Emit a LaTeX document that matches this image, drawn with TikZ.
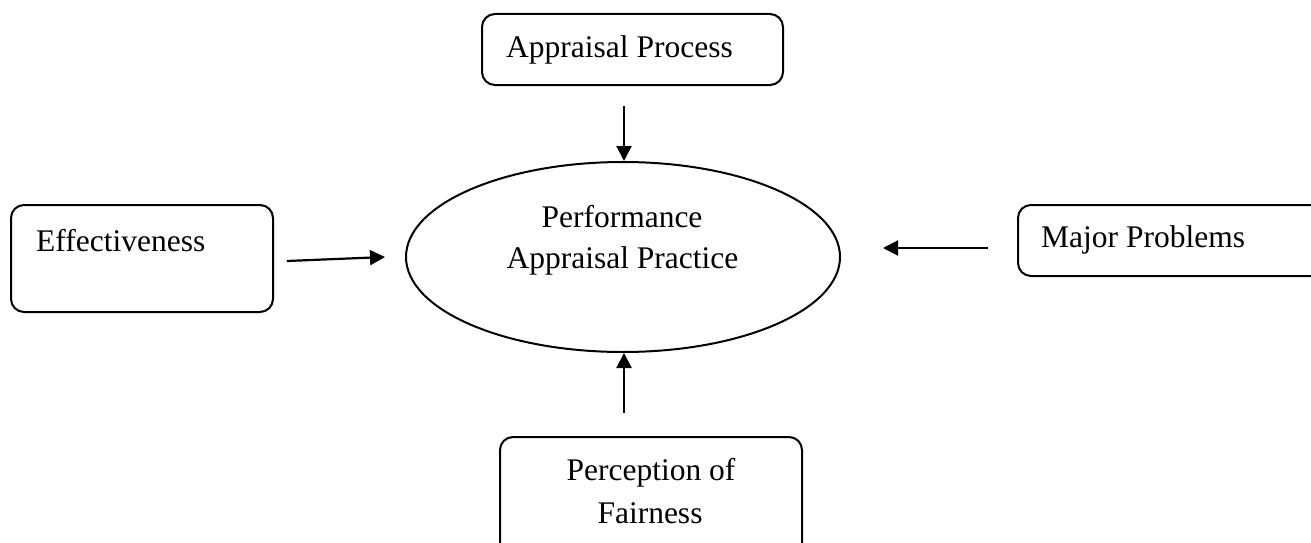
\documentclass[tikz,border=0pt]{standalone}
\usepackage{fontspec}
\setmainfont{Liberation Serif}
\usetikzlibrary{shapes.geometric,arrows.meta}
\begin{document}
\begin{tikzpicture}[x=1pt,y=-1pt,
  boxstyle/.style={draw,line width=2pt,rounded corners=13pt,inner sep=0pt},
  txt/.style={font=\fontsize{31.5}{40}\selectfont,inner sep=0pt},
  conn/.style={line width=2.2pt,-{Triangle[length=15pt,width=15pt]}}]
\useasboundingbox (0,0) rectangle (1311,543);
\clip (0,0) rectangle (1311,543);
% boxes
\node[boxstyle,minimum width=301pt,minimum height=71pt] (ap) at (632.5,49.5) {};
\node[boxstyle,minimum width=262pt,minimum height=107pt] (ef) at (142,258.5) {};
\node[boxstyle,minimum width=320pt,minimum height=71pt] (mp) at (1178,240.5) {};
\node[boxstyle,minimum width=302pt,minimum height=130pt] (pf) at (651,502) {};
\node[draw,ellipse,line width=2pt,inner sep=0pt,minimum width=434pt,minimum height=190pt] (ell) at (623,257) {};
% texts
\node[txt,anchor=base west] (apt) at (506,57) {Appraisal Process};
\node[txt,anchor=base west] (eft) at (36,251) {Effectiveness};
\node[txt,anchor=base west] (mpt) at (1041,247) {Major Problems};
\node[txt,anchor=base] (pft1) at (651,480) {Perception of};
\node[txt,anchor=base] (pft2) at (650,523) {Fairness};
\node[txt,anchor=base] (ellt1) at (622,227) {Performance};
\node[txt,anchor=base] (ellt2) at (622.5,268) {Appraisal Practice};
% connector ends
\coordinate (a1s) at (624,106);
\coordinate (a1e) at (624,161);
\coordinate (a2s) at (287,261);
\coordinate (a2e) at (385,257);
\coordinate (a3s) at (988,248);
\coordinate (a3e) at (883,248);
\coordinate (a4s) at (624,413);
\coordinate (a4e) at (624,353);
\draw[conn] (a1s) -- (a1e);
\draw[conn] (a2s) -- (a2e);
\draw[conn] (a3s) -- (a3e);
\draw[conn] (a4s) -- (a4e);
\end{tikzpicture}
\end{document}
